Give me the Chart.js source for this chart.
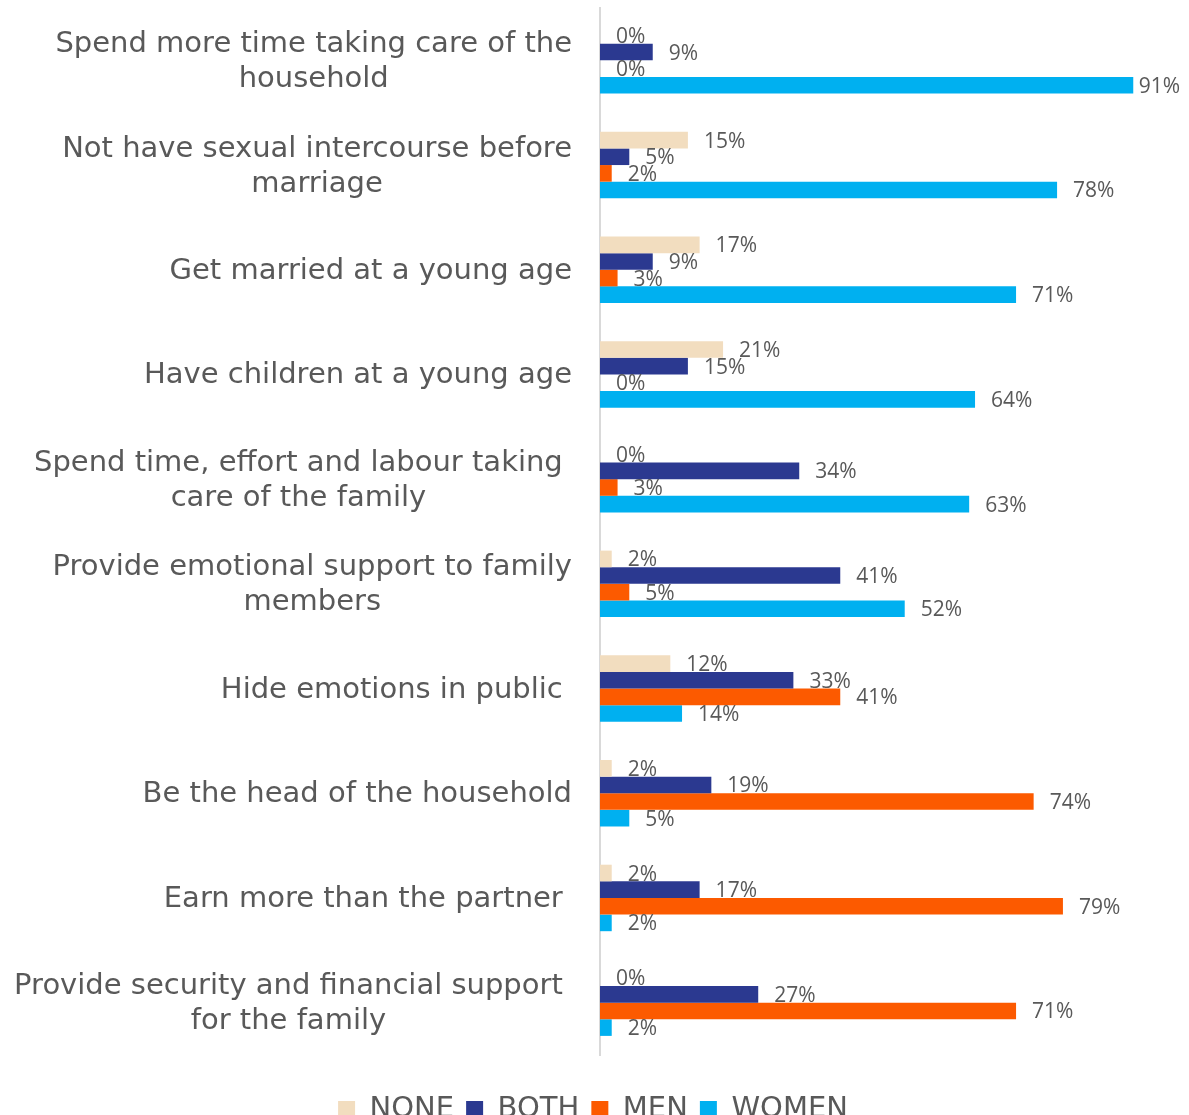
<!DOCTYPE html>
<html>
<head>
<meta charset="utf-8">
<script src="https://cdn.jsdelivr.net/npm/chart.js@4"></script>
<style>
  html, body { margin: 0; padding: 0; background: #fff; overflow: hidden; }
  #wrap { position: relative; width: 1189px; height: 1134px; }
</style>
</head>
<body>
<div id="wrap"><canvas id="chart"></canvas></div>
<script>
'use strict';

// Statements, one per row (multi-line ones are split by hand).
const categories = [
  ['Spend more time taking care of the', 'household'],
  ['Not have sexual intercourse before', 'marriage'],
  ['Get married at a young age'],
  ['Have children at a young age'],
  ['Spend time, effort and labour taking ', 'care of the family'],
  ['Provide emotional support to family', 'members'],
  ['Hide emotions in public '],
  ['Be the head of the household'],
  ['Earn more than the partner '],
  ['Provide security and financial support ', 'for the family']
];

// Share of answers (%) per group.
const noneValues  = [0, 15, 17, 21, 0, 2, 12, 2, 2, 0];
const bothValues  = [9, 5, 9, 15, 34, 41, 33, 19, 17, 27];
const menValues   = [0, 2, 3, 0, 3, 5, 41, 74, 79, 71];
const womenValues = [91, 78, 71, 64, 63, 52, 14, 5, 2, 2];

const color = {
  NONE: '#F2DDBF',
  BOTH: '#2B3990',
  MEN: '#FC5A00',
  WOMEN: '#00B0F0'
};

const textColor = '#595959';
const labelFont = '"DejaVu Sans", sans-serif';
const valueFont = '"Open Sans", sans-serif';

// Draws the percentage next to the end of every bar.
const valueLabels = {
  id: 'valueLabels',
  afterDatasetsDraw(chart) {
    const ctx = chart.ctx;
    ctx.save();
    ctx.font = '21px ' + valueFont;
    ctx.fillStyle = textColor;
    ctx.textAlign = 'left';
    ctx.textBaseline = 'middle';
    chart.data.datasets.forEach((ds, di) => {
      const meta = chart.getDatasetMeta(di);
      meta.data.forEach((bar, i) => {
        const txt = ds.data[i] + '%';
        const w = ctx.measureText(txt).width;
        let x = bar.x + 16;
        if (x + w > chart.width - 9) x = chart.width - 9 - w;
        ctx.fillText(txt, x, bar.y + 1.5);
      });
    });
    ctx.restore();
  }
};

// Category labels: each block is right aligned against the axis
// (trailing spaces still take room), lines are centred on each other.
const categoryLabels = {
  id: 'categoryLabels',
  afterDraw(chart) {
    const ctx = chart.ctx;
    const yScale = chart.scales.y;
    const right = 572;
    const lineHeight = 35;
    ctx.save();
    ctx.font = '29px ' + labelFont;
    ctx.fillStyle = textColor;
    ctx.textAlign = 'center';
    ctx.textBaseline = 'middle';
    categories.forEach((lines, i) => {
      const cy = yScale.getPixelForValue(i) + 1.5;
      let widest = lines[0];
      lines.forEach(l => {
        if (ctx.measureText(l).width > ctx.measureText(widest).width) widest = l;
      });
      const fullW = ctx.measureText(widest).width;
      const trimW = ctx.measureText(widest.trimEnd()).width;
      const cx = right - fullW + trimW / 2;
      lines.forEach((line, li) => {
        ctx.fillText(line.trimEnd(), cx, cy + (li - (lines.length - 1) / 2) * lineHeight);
      });
    });
    ctx.restore();
  }
};

function makeDataset(name, values) {
  return {
    label: name,
    data: values,
    backgroundColor: color[name],
    borderWidth: 0,
    categoryPercentage: 0.635,
    barPercentage: 1
  };
}

const chartEl = document.querySelector('canvas#chart');

new Chart(chartEl, {
  type: 'bar',
  data: {
    labels: categories.map(c => c.join(' ')),
    datasets: [
      makeDataset('NONE', noneValues),
      makeDataset('BOTH', bothValues),
      makeDataset('MEN', menValues),
      makeDataset('WOMEN', womenValues)
    ]
  },
  options: {
    indexAxis: 'y',
    responsive: true,
    maintainAspectRatio: false,
    animation: false,
    layout: {
      padding: {left: 0, right: 3, top: 8, bottom: 0}
    },
    scales: {
      x: {
        display: true,
        min: 0,
        max: 100,
        grid: {display: false, drawTicks: false},
        ticks: {display: false},
        border: {display: false},
        // empty band between the bars and the legend
        afterFit(scale) { scale.height = 28; }
      },
      y: {
        display: true,
        grid: {display: false, drawTicks: false},
        ticks: {display: false},
        border: {display: true, color: '#D9D9D9', width: 2},
        // room for the hand-drawn category labels
        afterFit(scale) { scale.width = 600; }
      }
    },
    plugins: {
      legend: {
        position: 'bottom',
        labels: {
          boxWidth: 17,
          boxHeight: 17,
          padding: 12,
          color: textColor,
          font: {family: labelFont, size: 29}
        }
      },
      tooltip: {enabled: false}
    }
  },
  plugins: [valueLabels, categoryLabels]
});
</script>
</body>
</html>
